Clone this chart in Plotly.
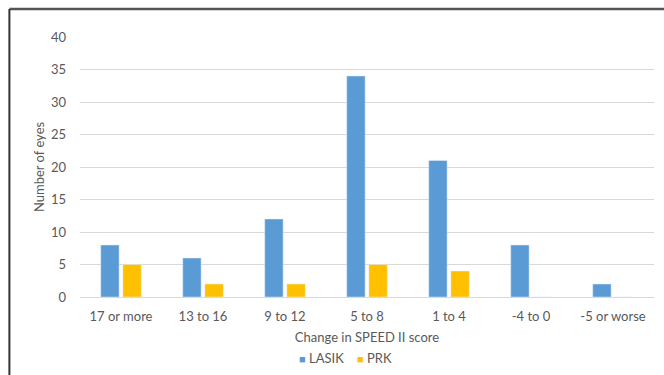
import plotly.graph_objects as go

categories = ["17 or more", "13 to 16", "9 to 12", "5 to 8", "1 to 4", "-4 to 0", "-5 or worse"]
lasik = [8, 6, 12, 34, 21, 8, 2]
prk = [5, 2, 2, 5, 4, 0, 0]
series_names = ["LASIK", "PRK"]
series_colors = ["#5B9BD5", "#FFC000"]

FONT = "Lato, 'Open Sans', sans-serif"
TEXT = "#595959"

fig = go.Figure()
for name, vals, col in zip(series_names, [lasik, prk], series_colors):
    fig.add_trace(go.Bar(name=name, x=categories, y=vals, marker_color=col))

# compact legend: small coloured squares followed by the series names
legend_text = "&nbsp;&nbsp;&nbsp;&nbsp;".join(
    f"<span style='color:{c};font-size:11px'>■</span> {n}"
    for n, c in zip(series_names, series_colors)
)

fig.update_layout(
    width=664, height=375,
    margin=dict(l=80, r=10, t=37, b=78, autoexpand=False),
    paper_bgcolor="white", plot_bgcolor="white",
    barmode="group", bargap=0.46, bargroupgap=0.17,
    font=dict(family=FONT, size=13, color=TEXT),
    showlegend=False,
    annotations=[dict(text=legend_text, xref="paper", yref="paper",
                      x=(345 - 80) / 574, y=-(358 - 297) / 260,
                      xanchor="center", yanchor="middle", showarrow=False,
                      font=dict(size=13, color=TEXT))],
    xaxis=dict(
        title=dict(text="Change in SPEED II score", font=dict(size=13, color=TEXT), standoff=9),
        showgrid=False, showline=False, ticks="", ticklabelstandoff=10,
        tickfont=dict(size=13, color=TEXT),
    ),
    yaxis=dict(
        title=dict(text="Number of eyes", font=dict(size=13, color=TEXT), standoff=3),
        range=[0, 40], dtick=5, showgrid=True, gridcolor="#D9D9D9", gridwidth=1,
        zeroline=True, zerolinecolor="#D9D9D9", zerolinewidth=1,
        showline=False, ticks="", ticklabelstandoff=13, tickfont=dict(size=13, color=TEXT),
    ),
    shapes=[
        dict(type="line", xref="paper", yref="paper", x0=-0.123, x1=1.02, y0=1.108, y1=1.108,
             line=dict(color="#555555", width=2.5)),
        dict(type="line", xref="paper", yref="paper", x0=-0.123, x1=-0.123, y0=1.108, y1=-0.32,
             line=dict(color="#333333", width=2)),
    ],
)

fig.write_html("out.html")
